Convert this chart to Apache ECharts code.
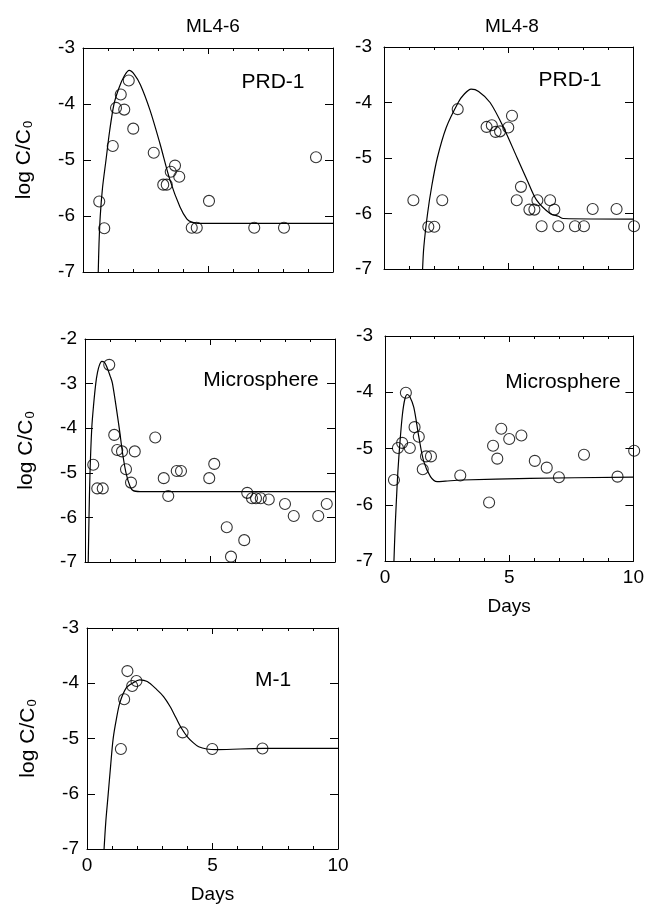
<!DOCTYPE html>
<html>
<head>
<meta charset="utf-8">
<script src="https://cdn.jsdelivr.net/npm/echarts/dist/echarts.min.js"></script>
<style>
  html, body { margin: 0; padding: 0; background: #fff; }
  #chart { width: 647px; height: 905px; }
</style>
</head>
<body>
<div id="chart"></div>
<script>
// ML4-6, PRD-1 (observed + model fit)
const ml46PrdDays = [0.65, 0.85, 1.19, 1.32, 1.51, 1.65, 1.83, 2.01, 2.83, 3.21, 3.35, 3.51, 3.68, 3.85, 4.35, 4.55, 5.04, 6.85, 8.04, 9.32]
const ml46PrdLog = [-5.74, -6.22, -4.75, -4.07, -3.83, -4.1, -3.58, -4.44, -4.87, -5.44, -5.44, -5.21, -5.1, -5.3, -6.21, -6.21, -5.73, -6.21, -6.21, -4.95]
const ml46PrdFitDays = [0.61, 0.64, 0.69, 0.78, 0.92, 1.06, 1.24, 1.45, 1.65, 1.85, 2.05, 2.3, 2.68, 3.08, 3.48, 3.88, 4.15, 4.35, 4.6, 10]
const ml46PrdFitLog = [-7, -6.5, -6.0, -5.5, -5.0, -4.5, -4.0, -3.7, -3.5, -3.4, -3.47, -3.66, -4.11, -4.71, -5.36, -5.84, -6.05, -6.11, -6.13, -6.13]

// ML4-8, PRD-1
const ml48PrdDays = [1.18, 1.78, 2.02, 2.34, 2.96, 4.12, 4.33, 4.48, 4.66, 4.99, 5.14, 5.33, 5.5, 5.84, 6.04, 6.16, 6.33, 6.67, 6.84, 7.0, 7.67, 8.03, 8.38, 9.34, 10.04]
const ml48PrdLog = [-5.76, -6.24, -6.24, -5.76, -4.12, -4.44, -4.41, -4.53, -4.52, -4.45, -4.24, -5.76, -5.52, -5.93, -5.93, -5.76, -6.23, -5.76, -5.93, -6.23, -6.23, -6.23, -5.92, -5.92, -6.23]
const ml48PrdFitDays = [1.55, 1.6, 1.75, 1.92, 2.14, 2.5, 2.98, 3.2, 3.5, 3.8, 4.26, 4.8, 5.35, 5.75, 6.13, 6.67, 7.0, 7.2, 10]
const ml48PrdFitLog = [-7, -6.6, -6.0, -5.5, -5.0, -4.45, -4.0, -3.86, -3.76, -3.8, -4.0, -4.45, -5.0, -5.4, -5.76, -6.0, -6.05, -6.09, -6.1]

// ML4-6, microsphere
const ml46MicDays = [0.33, 0.49, 0.71, 0.97, 1.17, 1.29, 1.48, 1.64, 1.84, 1.99, 2.81, 3.15, 3.33, 3.67, 3.84, 4.97, 5.17, 5.67, 5.84, 6.37, 6.49, 6.68, 6.84, 7.03, 7.35, 8.0, 8.35, 9.33, 9.67]
const ml46MicLog = [-4.82, -5.35, -5.35, -2.58, -4.15, -4.49, -4.52, -4.92, -5.22, -4.52, -4.21, -5.12, -5.52, -4.96, -4.96, -5.12, -4.8, -6.22, -6.88, -6.51, -5.45, -5.57, -5.57, -5.57, -5.6, -5.7, -5.97, -5.97, -5.7]
const ml46MicFitDays = [0.13, 0.16, 0.2, 0.27, 0.34, 0.43, 0.5, 0.58, 0.67, 0.77, 0.87, 1.0, 1.1, 1.37, 1.5, 1.64, 1.8, 1.93, 2.2, 10]
const ml46MicFitLog = [-7, -6.0, -5.0, -4.0, -3.5, -3.0, -2.75, -2.58, -2.5, -2.52, -2.62, -2.82, -3.0, -4.0, -4.55, -5.0, -5.3, -5.4, -5.42, -5.42]

// ML4-8, microsphere
const ml48MicDays = [0.36, 0.52, 0.69, 0.84, 1.0, 1.19, 1.36, 1.52, 1.65, 1.85, 3.03, 4.19, 4.35, 4.52, 4.68, 5.0, 5.49, 6.03, 6.51, 7.0, 8.01, 9.36, 10.03]
const ml48MicLog = [-5.56, -4.99, -4.9, -4.01, -4.99, -4.62, -4.79, -5.37, -5.14, -5.14, -5.48, -5.96, -4.95, -5.18, -4.65, -4.83, -4.77, -5.22, -5.34, -5.51, -5.11, -5.5, -5.04]
const ml48MicFitDays = [0.36, 0.4, 0.45, 0.52, 0.6, 0.7, 0.8, 0.9, 1.0, 1.16, 1.36, 1.56, 1.83, 2.1, 2.43, 3.1, 5.83, 10]
const ml48MicFitLog = [-7, -6.5, -6.0, -5.4, -4.9, -4.4, -4.12, -4.04, -4.08, -4.27, -4.79, -5.23, -5.5, -5.59, -5.58, -5.56, -5.53, -5.51]

// ML4-6, M-1
const ml46M1Days = [1.35, 1.48, 1.61, 1.8, 1.97, 3.81, 4.99, 6.99]
const ml46M1Log = [-5.19, -4.29, -3.78, -4.05, -3.96, -4.89, -5.19, -5.18]
const ml46M1FitDays = [0.68, 0.75, 0.84, 0.94, 1.04, 1.17, 1.31, 1.57, 1.84, 2.1, 2.4, 2.77, 3.05, 3.31, 3.55, 3.77, 4.0, 4.24, 4.45, 4.77, 5.2, 7, 10]
const ml46M1FitLog = [-7, -6.5, -6.03, -5.5, -5.01, -4.65, -4.35, -4.08, -3.99, -3.94, -3.97, -4.11, -4.24, -4.42, -4.63, -4.82, -4.97, -5.08, -5.15, -5.19, -5.2, -5.18, -5.18]

const dayTicks = [0, 5, 10]
const columnTitles = ['ML4-6', 'ML4-8']

const FONT = 'Liberation Sans, Arial, sans-serif'

function zip(xs, ys) {
  return xs.map((x, i) => [x, ys[i]])
}

// one entry per panel: grid box, y range, label, data
const panels = [
  { box: [83, 48, 250, 224], yMin: -7, yMax: -3, yName: true, days: false,
    label: 'PRD-1', labelPos: [273, 82], obs: zip(ml46PrdDays, ml46PrdLog), fit: zip(ml46PrdFitDays, ml46PrdFitLog) },
  { box: [384, 47, 249, 222], yMin: -7, yMax: -3, yName: false, days: false,
    label: 'PRD-1', labelPos: [570, 80], obs: zip(ml48PrdDays, ml48PrdLog), fit: zip(ml48PrdFitDays, ml48PrdFitLog) },
  { box: [85, 339, 250, 223], yMin: -7, yMax: -2, yName: true, days: false,
    label: 'Microsphere', labelPos: [261, 380], obs: zip(ml46MicDays, ml46MicLog), fit: zip(ml46MicFitDays, ml46MicFitLog) },
  { box: [385, 336, 250, 225], yMin: -7, yMax: -3, yName: false, days: true,
    label: 'Microsphere', labelPos: [563, 382], obs: zip(ml48MicDays, ml48MicLog), fit: zip(ml48MicFitDays, ml48MicFitLog) },
  { box: [87, 628, 251, 222], yMin: -7, yMax: -3, yName: true, days: true,
    label: 'M-1', labelPos: [273, 680], obs: zip(ml46M1Days, ml46M1Log), fit: zip(ml46M1FitDays, ml46M1FitLog) },
]

const line = { lineStyle: { color: '#000', width: 1 } }

const grid = []
const xAxis = []
const yAxis = []
const series = []
const graphic = []

panels.forEach((p, i) => {
  grid.push({ left: p.box[0], top: p.box[1], width: p.box[2], height: p.box[3], containLabel: false })

  const xBase = {
    type: 'value', gridIndex: i, min: 0, max: 10, interval: 5,
    axisLine: { show: true, onZero: false, ...line },
    axisTick: { show: true, inside: true, length: 6, ...line },
    minorTick: { show: true, splitNumber: 5, length: 3, ...line },
    splitLine: { show: false },
  }
  xAxis.push({
    ...xBase, position: 'bottom',
    axisLabel: {
      show: p.days, color: '#000', fontSize: 19, fontFamily: FONT, margin: 7,
      formatter: v => (dayTicks.includes(v) ? String(v) : ''),
    },
    name: p.days ? 'Days' : '', nameLocation: 'middle', nameGap: 36,
    nameTextStyle: { color: '#000', fontSize: 19, fontFamily: FONT },
  })
  xAxis.push({ ...xBase, position: 'top', axisLabel: { show: false } })

  const yBase = {
    type: 'value', gridIndex: i, min: p.yMin, max: p.yMax, interval: 1,
    axisLine: { show: true, onZero: false, ...line },
    axisTick: { show: true, inside: true, length: 8, ...line },
    splitLine: { show: false },
  }
  yAxis.push({
    ...yBase, position: 'left',
    axisLabel: { color: '#000', fontSize: 19, fontFamily: FONT, margin: p.yName ? 8 : 12 },
    name: p.yName ? 'log C/C{s|0}' : '', nameLocation: 'middle', nameRotate: 90, nameGap: 48,
    nameTextStyle: {
      color: '#000', fontSize: 21, fontFamily: FONT,
      rich: { s: { color: '#000', fontSize: 13, fontFamily: FONT, padding: [9, 0, 0, 1] } },
    },
  })
  yAxis.push({ ...yBase, position: 'right', axisLabel: { show: false } })

  series.push({
    type: 'line', xAxisIndex: i * 2, yAxisIndex: i * 2, data: p.fit,
    showSymbol: false, smooth: 0.3,
    lineStyle: { color: '#000', width: 1.2 }, silent: true, z: 2,
  })
  series.push({
    type: 'scatter', xAxisIndex: i * 2, yAxisIndex: i * 2, data: p.obs,
    symbol: 'circle', symbolSize: 11, clip: false,
    itemStyle: { color: 'rgba(255,255,255,0)', borderColor: '#000', borderWidth: 1.1 },
    z: 3,
  })

  graphic.push({
    type: 'text', x: p.labelPos[0], y: p.labelPos[1], z: 10,
    style: { text: p.label, fill: '#000', fontSize: 21, fontFamily: FONT, align: 'center', verticalAlign: 'middle' },
  })
})

const chart = echarts.init(document.getElementById('chart'), null, { renderer: 'canvas' })
chart.setOption({
  animation: false,
  backgroundColor: '#fff',
  title: [
    { text: columnTitles[0], left: 208, top: 12, textAlign: 'center', textStyle: { color: '#000', fontSize: 19, fontWeight: 'normal', fontFamily: FONT } },
    { text: columnTitles[1], left: 507, top: 12, textAlign: 'center', textStyle: { color: '#000', fontSize: 19, fontWeight: 'normal', fontFamily: FONT } },
  ],
  grid,
  xAxis,
  yAxis,
  series,
  graphic,
})
</script>
</body>
</html>
